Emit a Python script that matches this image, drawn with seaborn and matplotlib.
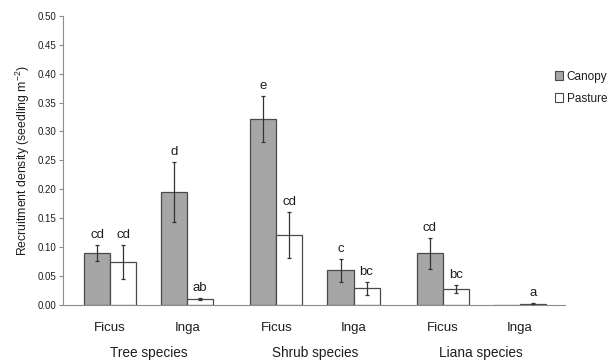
import numpy as np
import pandas as pd
import matplotlib
matplotlib.use("Agg")
import matplotlib.pyplot as plt
from matplotlib.patches import Patch
import seaborn as sns

# Recruitment data: two genera within each growth form, canopy vs pasture
groups = ["Tree species", "Shrub species", "Liana species"]
genera = ["Ficus", "Inga"]
habitats = ["Canopy", "Pasture"]

canopy_mean = [0.090, 0.195, 0.321, 0.060, 0.089, 0.0]
canopy_se = [0.014, 0.052, 0.040, 0.020, 0.027, 0.0]
pasture_mean = [0.074, 0.010, 0.121, 0.029, 0.027, 0.002]
pasture_se = [0.029, 0.002, 0.039, 0.011, 0.007, 0.001]

canopy_letters = ["cd", "d", "e", "c", "cd", ""]
pasture_letters = ["cd", "ab", "cd", "bc", "bc", "a"]

# layout: spacing between the two genera is 1, between growth forms a bit more
group_step = 2.156
positions = [g * group_step + k for g in range(len(groups)) for k in range(len(genera))]
tick_labels = [gen for _ in groups for gen in genera]

df = pd.DataFrame({
    "pos": positions * 2,
    "habitat": ["Canopy"] * 6 + ["Pasture"] * 6,
    "density": canopy_mean + pasture_mean,
})
se = {"Canopy": canopy_se, "Pasture": pasture_se}
letters = {"Canopy": canopy_letters, "Pasture": pasture_letters}

sns.set_theme(style="white")
plt.rcParams["font.family"] = ["Liberation Sans", "DejaVu Sans"]
plt.rcParams["mathtext.fontset"] = "custom"
plt.rcParams["mathtext.rm"] = "Liberation Sans"
plt.rcParams["mathtext.it"] = "Liberation Sans"

edge = "#4a4a4a"
axis_grey = "#8c8c8c"
text_col = "#1e1e1e"
palette = {"Canopy": "#a6a6a6", "Pasture": "#ffffff"}

fig = plt.figure(figsize=(6.12, 3.60), dpi=100)
ax = fig.add_axes([0.103, 0.153, 0.820, 0.803])

sns.barplot(data=df, x="pos", y="density", hue="habitat", hue_order=habitats,
            palette=palette, native_scale=True, width=0.675, errorbar=None,
            edgecolor=edge, linewidth=0.9, legend=False, ax=ax)

for cont, hab in zip(ax.containers, habitats):
    for bar, err, lab in zip(cont.patches, se[hab], letters[hab]):
        xc = bar.get_x() + bar.get_width() / 2
        h = bar.get_height()
        if err > 0:
            ax.errorbar(xc, h, yerr=err, fmt="none", ecolor="#333333",
                        elinewidth=0.9, capsize=1.6, capthick=0.9, zorder=4)
        if lab:
            ax.annotate(lab, (xc, h + err), xytext=(0, 3), textcoords="offset points",
                        ha="center", va="bottom", fontsize=9.5, color=text_col)

ax.set_xlim(-0.61, positions[-1] + 0.584)
ax.set_ylim(0, 0.50)
ax.set_yticks(np.arange(0, 0.501, 0.05))
ax.set_yticklabels([f"{v:.2f}" for v in np.arange(0, 0.501, 0.05)], fontsize=7, color=text_col)
ax.set_xticks(positions)
ax.set_xticklabels(tick_labels, fontsize=9.5, color=text_col)
bounds = [-0.61] + [(positions[2 * g + 1] + positions[2 * g + 2]) / 2 for g in range(2)] + [positions[-1] + 0.584]
ax.set_xticks(bounds, minor=True)
ax.tick_params(axis="x", which="major", length=0, pad=12)
ax.tick_params(axis="x", which="minor", length=4, width=0.8, color=axis_grey, direction="out")
ax.tick_params(axis="y", length=3, width=0.8, color=axis_grey, direction="out", pad=2, left=True)

for g, name in enumerate(groups):
    xc = (positions[2 * g] + positions[2 * g + 1]) / 2
    ax.text(xc, -0.165, name, transform=ax.get_xaxis_transform(), ha="center", va="center",
            fontsize=9.8, color=text_col)

ax.set_xlabel("")
ax.set_ylabel("Recruitment density (seedling m$^{-2}$)", fontsize=8.8, color=text_col, labelpad=4)

sns.despine(ax=ax)
for side in ["left", "bottom"]:
    ax.spines[side].set_color(axis_grey)
    ax.spines[side].set_linewidth(0.8)

handles = [Patch(facecolor=palette[h], edgecolor=edge, linewidth=0.8) for h in habitats]
fig.legend(handles, habitats, loc="upper left", bbox_to_anchor=(0.897, 0.82), frameon=False,
           fontsize=8.5, handlelength=0.7, handleheight=0.7, handletextpad=0.3,
           labelspacing=0.85, borderpad=0, labelcolor=text_col)

fig.savefig("out.png", dpi=100)
